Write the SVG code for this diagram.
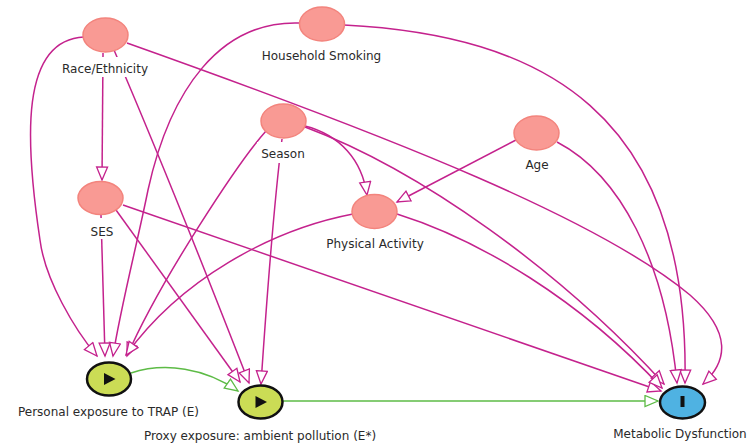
<svg xmlns="http://www.w3.org/2000/svg" width="753" height="445" viewBox="0 0 753 445">
<defs>
<marker id="am" markerUnits="userSpaceOnUse" markerWidth="18" markerHeight="14" refX="14" refY="6.5" orient="auto">
<path d="M1,1 L14,6.5 L1,12 Z" fill="#fff" stroke="#c4228d" stroke-width="1.3"/>
</marker>
<marker id="ag" markerUnits="userSpaceOnUse" markerWidth="18" markerHeight="14" refX="14" refY="6.5" orient="auto">
<path d="M1,1 L14,6.5 L1,12 Z" fill="#fff" stroke="#5dbb46" stroke-width="1.3"/>
</marker>
</defs>
<style>
.e{fill:none;stroke:#c4228d;stroke-width:1.5;marker-end:url(#am)}
.g{fill:none;stroke:#5dbb46;stroke-width:1.5;marker-end:url(#ag)}
.n{fill:#f99a94;stroke:#f3847d;stroke-width:1.5}
.x{fill:#cbdc55;stroke:#111;stroke-width:2.5}
.o{fill:#4fb2e2;stroke:#111;stroke-width:2.5}
.bg{fill:#fff}
text{font-family:"DejaVu Sans","Liberation Sans",sans-serif;font-size:12px;fill:#2a2a2a;text-anchor:middle}
</style>
<rect width="753" height="445" fill="#fff"/>
<g id="connectors">
<path class="e" d="M84,37 C20,40 25,140 40,240 C45,280 75,330 97,356"/>
<path class="e" d="M103,53 L102,180"/>
<path class="e" d="M114,50 Q170,180 249,383"/>
<path class="e" d="M127,43 C400,140 600,220 690,295 C733,333 727,362 703,384"/>
<path class="e" d="M300,23 C220,20 170,90 148,190 C138,240 120,310 113,356"/>
<path class="e" d="M344,25 C540,35 690,110 685,383"/>
<path class="e" d="M266,131 C240,160 160,280 127,356"/>
<path class="e" d="M282,139 Q272,220 261,384"/>
<path class="e" d="M305,126 C340,135 362,160 367,195"/>
<path class="e" d="M305,127 C420,170 560,270 664,384"/>
<path class="e" d="M516,140 L397,202"/>
<path class="e" d="M557,142 C620,175 665,260 677,383"/>
<path class="e" d="M101,215 L105,356"/>
<path class="e" d="M116,210 L240,382"/>
<path class="e" d="M123,205 L661,391"/>
<path class="e" d="M353,214 C270,230 180,280 126,355"/>
<path class="e" d="M397,214 C480,240 580,300 662,388"/>
<path class="g" d="M131,373 C165,362 205,368 238,391"/>
<path class="g" d="M283,401 L658,401"/>
</g>
<g id="race">
<ellipse class="n" cx="105.5" cy="35" rx="22.5" ry="17"/>
<rect class="bg" x="58" y="57" width="95" height="20"/>
<text x="105" y="73">Race/Ethnicity</text>
</g>
<g id="smoking">
<ellipse class="n" cx="322" cy="24" rx="22.5" ry="17"/>
<rect class="bg" x="256" y="44" width="132" height="20"/>
<text x="321.5" y="60">Household Smoking</text>
</g>
<g id="season">
<ellipse class="n" cx="283.5" cy="121" rx="22.5" ry="17"/>
<rect class="bg" x="257" y="142" width="53" height="21"/>
<text x="283" y="158">Season</text>
</g>
<g id="age">
<ellipse class="n" cx="536.5" cy="133" rx="22.5" ry="17"/>
<rect class="bg" x="522" y="153" width="30" height="20"/>
<text x="537" y="169">Age</text>
</g>
<g id="ses">
<ellipse class="n" cx="100.5" cy="198" rx="22.5" ry="16.5"/>
<rect class="bg" x="86" y="218" width="32" height="21"/>
<text x="102" y="236">SES</text>
</g>
<g id="activity">
<ellipse class="n" cx="374.5" cy="211.5" rx="22.5" ry="17"/>
<rect class="bg" x="323" y="232" width="104" height="20"/>
<text x="375" y="248">Physical Activity</text>
</g>
<g id="exposure">
<ellipse class="x" cx="109" cy="379" rx="22" ry="16.5"/>
<path d="M104,373 L104,385 L115.5,379 Z" fill="#111"/>
<text x="108.5" y="416">Personal exposure to TRAP (E)</text>
</g>
<g id="proxy">
<ellipse class="x" cx="260.5" cy="402" rx="22" ry="16.5"/>
<path d="M255.5,396 L255.5,408 L267,402 Z" fill="#111"/>
<text x="260" y="440">Proxy exposure: ambient pollution (E*)</text>
</g>
<g id="outcome">
<ellipse class="o" cx="682.5" cy="402.5" rx="22.5" ry="16"/>
<rect x="680.5" y="396" width="4" height="11" fill="#111"/>
<text x="680" y="438">Metabolic Dysfunction</text>
</g>
</svg>
